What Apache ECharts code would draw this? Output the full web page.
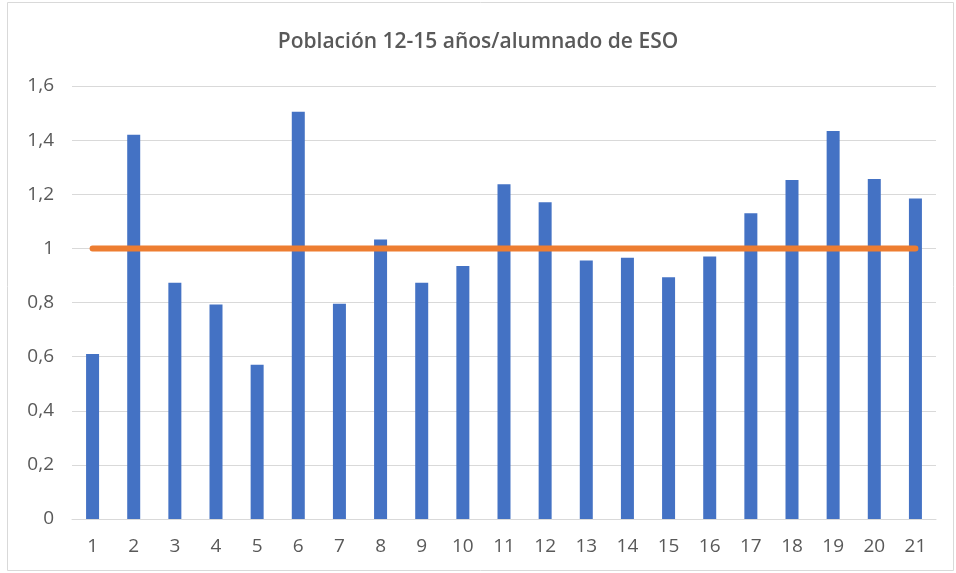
<!DOCTYPE html>
<html>
<head>
<meta charset="utf-8">
<script src="https://cdn.jsdelivr.net/npm/echarts@6/dist/echarts.min.js"></script>
<style>
	html, body { margin: 0; padding: 0; background: #fff; }
	#chart { width: 956px; height: 573px; }
</style>
</head>
<body>
<div id="chart"></div>
<script>
var categories = ['1','2','3','4','5','6','7','8','9','10','11','12','13','14','15','16','17','18','19','20','21'];
var ratioValues = [0.61, 1.42, 0.873, 0.793, 0.57, 1.505, 0.795, 1.033, 0.873, 0.935, 1.237, 1.17, 0.955, 0.965, 0.893, 0.97, 1.13, 1.253, 1.434, 1.256, 1.184];
var referenceValues = [1,1,1,1,1,1,1,1,1,1,1,1,1,1,1,1,1,1,1,1,1];

var labelColor = '#595959';

var myChart = echarts.init(document.getElementById('chart'));

var option = {
	animation: false,
	title: {
		text: 'Población 12-15 años/alumnado de ESO',
		left: 'center',
		top: 27,
		textStyle: {
			fontFamily: 'Open Sans',
			fontSize: 21,
			fontWeight: 600,
			color: labelColor
		}
	},
	graphic: [{
		type: 'rect',
		shape: { x: 7.5, y: 2.5, width: 946, height: 568 },
		style: { fill: 'none', stroke: '#d9d9d9', lineWidth: 1 },
		z: -1
	}],
	grid: { left: 72, right: 20, top: 86, bottom: 54 },
	xAxis: {
		type: 'category',
		data: categories,
		axisLine: { lineStyle: { color: '#d9d9d9', width: 1 } },
		axisTick: { show: false },
		axisLabel: { color: labelColor, fontSize: 19, margin: 18, fontFamily: 'Open Sans' }
	},
	yAxis: {
		type: 'value',
		min: 0,
		max: 1.6,
		interval: 0.2,
		axisLine: { show: false },
		axisTick: { show: false },
		splitLine: { lineStyle: { color: '#d9d9d9', width: 1 } },
		axisLabel: {
			color: labelColor,
			fontSize: 19,
			margin: 18,
			fontFamily: 'Open Sans',
			formatter: function (v) { return String(Math.round(v * 10) / 10).replace('.', ','); }
		}
	},
	series: [{
		name: 'Ratio',
		type: 'bar',
		data: ratioValues,
		barWidth: 13,
		itemStyle: { color: '#4472c4' }
	}, {
		name: 'Referencia',
		type: 'line',
		data: referenceValues,
		symbol: 'none',
		lineStyle: { color: '#ed7d31', width: 6, cap: 'round' },
		z: 3
	}]
};

myChart.setOption(option);
</script>
</body>
</html>
